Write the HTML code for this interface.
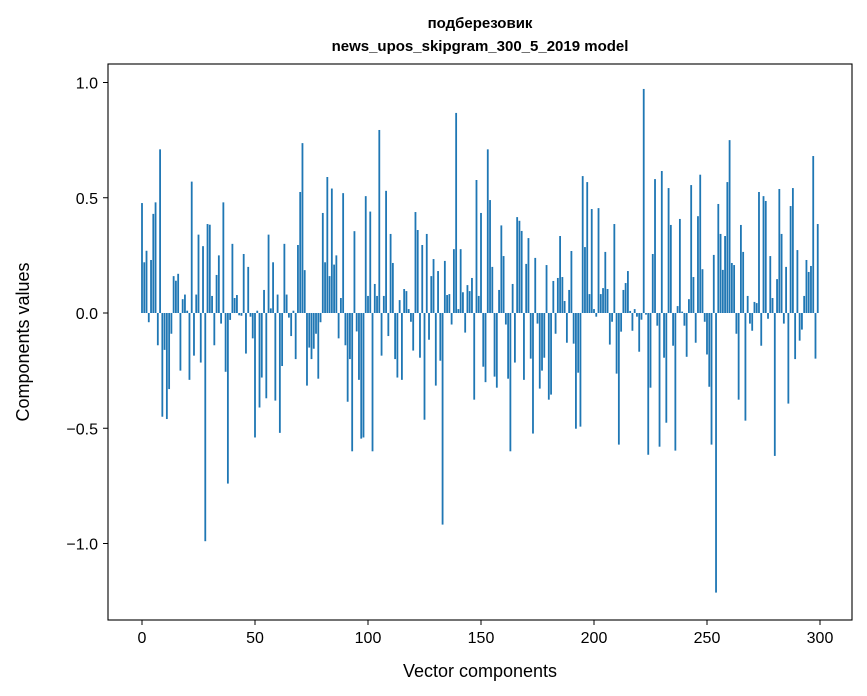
<!DOCTYPE html>
<html><head><meta charset="utf-8"><style>
body{margin:0;background:#fff}
svg{display:block;font-family:"Liberation Sans","DejaVu Sans",sans-serif}
</style></head><body>
<svg id="chart" width="867" height="696" viewBox="0 0 867 696">
<text x="480" y="28" text-anchor="middle" font-size="15" font-weight="bold">подберезовик</text>
<text x="480" y="51" text-anchor="middle" font-size="15" font-weight="bold">news_upos_skipgram_300_5_2019 model</text>
<g id="bars"></g>
<g id="axes"></g>
<rect x="108" y="64" width="744" height="556" fill="none" stroke="#000" stroke-width="1.1"/>
<text x="480" y="677" text-anchor="middle" font-size="18">Vector components</text>
<text transform="translate(29,342) rotate(-90)" text-anchor="middle" font-size="18">Components values</text>
</svg>
<script>
const values = [0.477,0.22,0.27,-0.04,0.23,0.43,0.48,-0.14,0.71,-0.45,
-0.16,-0.46,-0.33,-0.09,0.16,0.14,0.17,-0.25,0.06,0.08,
0.01,-0.29,0.57,-0.185,0.08,0.34,-0.215,0.29,-0.99,0.386,
0.383,0.074,-0.14,0.165,0.25,-0.046,0.48,-0.255,-0.74,-0.03,
0.3,0.065,0.078,-0.01,-0.012,0.256,-0.176,0.2,-0.016,-0.11,
-0.54,0.01,-0.41,-0.28,0.1,-0.37,0.34,0.02,0.22,-0.38,
0.08,-0.52,-0.23,0.3,0.08,-0.02,-0.1,0.01,-0.2,0.295,
0.525,0.737,0.186,-0.315,-0.15,-0.2,-0.155,-0.09,-0.285,-0.04,
0.434,0.22,0.59,0.16,0.54,0.21,0.25,-0.11,0.065,0.52,
-0.14,-0.385,-0.2,-0.6,0.355,-0.08,-0.29,-0.545,-0.54,0.507,
0.074,0.44,-0.6,0.126,0.074,0.794,-0.185,0.074,0.53,-0.1,
0.343,0.217,-0.2,-0.28,0.056,-0.29,0.104,0.095,0.017,-0.038,
-0.163,0.438,0.36,-0.194,0.295,-0.463,0.343,-0.116,0.16,0.234,
-0.315,0.182,-0.207,-0.918,0.226,0.078,0.082,-0.05,0.277,0.868,
0.017,0.277,0.09,-0.085,0.121,0.095,0.152,-0.376,0.577,0.074,
0.434,-0.233,-0.3,0.71,0.49,0.2,-0.276,-0.324,0.1,0.38,
0.247,-0.05,-0.285,-0.6,0.126,-0.215,0.416,0.4,0.356,-0.29,
0.213,0.325,-0.198,-0.523,0.239,-0.046,-0.328,-0.25,-0.194,0.208,
-0.376,-0.354,0.139,-0.09,0.152,0.334,0.156,0.052,-0.129,0.1,
0.269,-0.133,-0.502,-0.259,-0.493,0.594,0.286,0.568,0.082,0.451,
0.017,-0.016,0.455,0.082,0.108,0.265,0.104,-0.137,-0.038,0.386,
-0.263,-0.571,-0.081,0.1,0.13,0.182,0.009,-0.077,0.017,-0.016,
-0.168,-0.029,0.972,-0.007,-0.615,-0.324,0.256,0.581,-0.055,-0.58,
0.616,-0.194,-0.476,0.542,0.382,-0.142,-0.597,0.03,0.408,0.006,
-0.055,-0.19,0.06,0.555,0.156,-0.129,0.42,0.6,0.19,-0.038,
-0.18,-0.32,-0.571,0.252,-1.213,0.473,0.343,0.187,0.334,0.568,
0.75,0.217,0.208,-0.09,-0.376,0.382,0.265,-0.467,0.074,-0.046,
-0.077,0.048,0.043,0.525,-0.142,0.507,0.486,-0.025,0.247,0.065,
-0.62,0.147,0.538,0.343,-0.046,0.2,-0.393,0.464,0.542,-0.2,
0.273,-0.12,-0.072,0.074,0.23,0.178,0.204,0.681,-0.198,0.386];
const xTicks = [0,50,100,150,200,250,300];
const yTicks = [1.0,0.5,0.0,-0.5,-1.0];
const yTickLabels = ["1.0","0.5","0.0","\u22120.5","\u22121.0"];

const NS="http://www.w3.org/2000/svg";
function xScale(v){return 142+v*2.26;}
function yScale(v){return 313-v*230.5;}
const barW=0.8*2.26;
const gb=document.getElementById('bars');
values.forEach((v,i)=>{
  const r=document.createElementNS(NS,'rect');
  const y0=yScale(0),y1=yScale(v);
  r.setAttribute('x',xScale(i)-barW/2);
  r.setAttribute('y',Math.min(y0,y1));
  r.setAttribute('width',barW);
  r.setAttribute('height',Math.max(Math.abs(y1-y0),0.3));
  r.setAttribute('fill','#1f77b4');
  
  
  gb.appendChild(r);
});
const ga=document.getElementById('axes');
xTicks.forEach(t=>{
  const x=xScale(t);
  const l=document.createElementNS(NS,'line');
  l.setAttribute('x1',x);l.setAttribute('x2',x);l.setAttribute('y1',620);l.setAttribute('y2',625);
  l.setAttribute('stroke','#000');
  
  
  ga.appendChild(l);
  const tx=document.createElementNS(NS,'text');
  tx.setAttribute('x',x);tx.setAttribute('y',643);tx.setAttribute('text-anchor','middle');tx.setAttribute('font-size','16');
  tx.textContent=String(t);
  
  
  ga.appendChild(tx);
});
yTicks.forEach((t,i)=>{
  const y=yScale(t);
  const l=document.createElementNS(NS,'line');
  l.setAttribute('x1',103);l.setAttribute('x2',108);l.setAttribute('y1',y);l.setAttribute('y2',y);
  l.setAttribute('stroke','#000');
  
  
  ga.appendChild(l);
  const tx=document.createElementNS(NS,'text');
  tx.setAttribute('x',98);tx.setAttribute('y',y+6);tx.setAttribute('text-anchor','end');tx.setAttribute('font-size','16');
  tx.textContent=yTickLabels[i];
  
  
  ga.appendChild(tx);
});
</script>
</body></html>
